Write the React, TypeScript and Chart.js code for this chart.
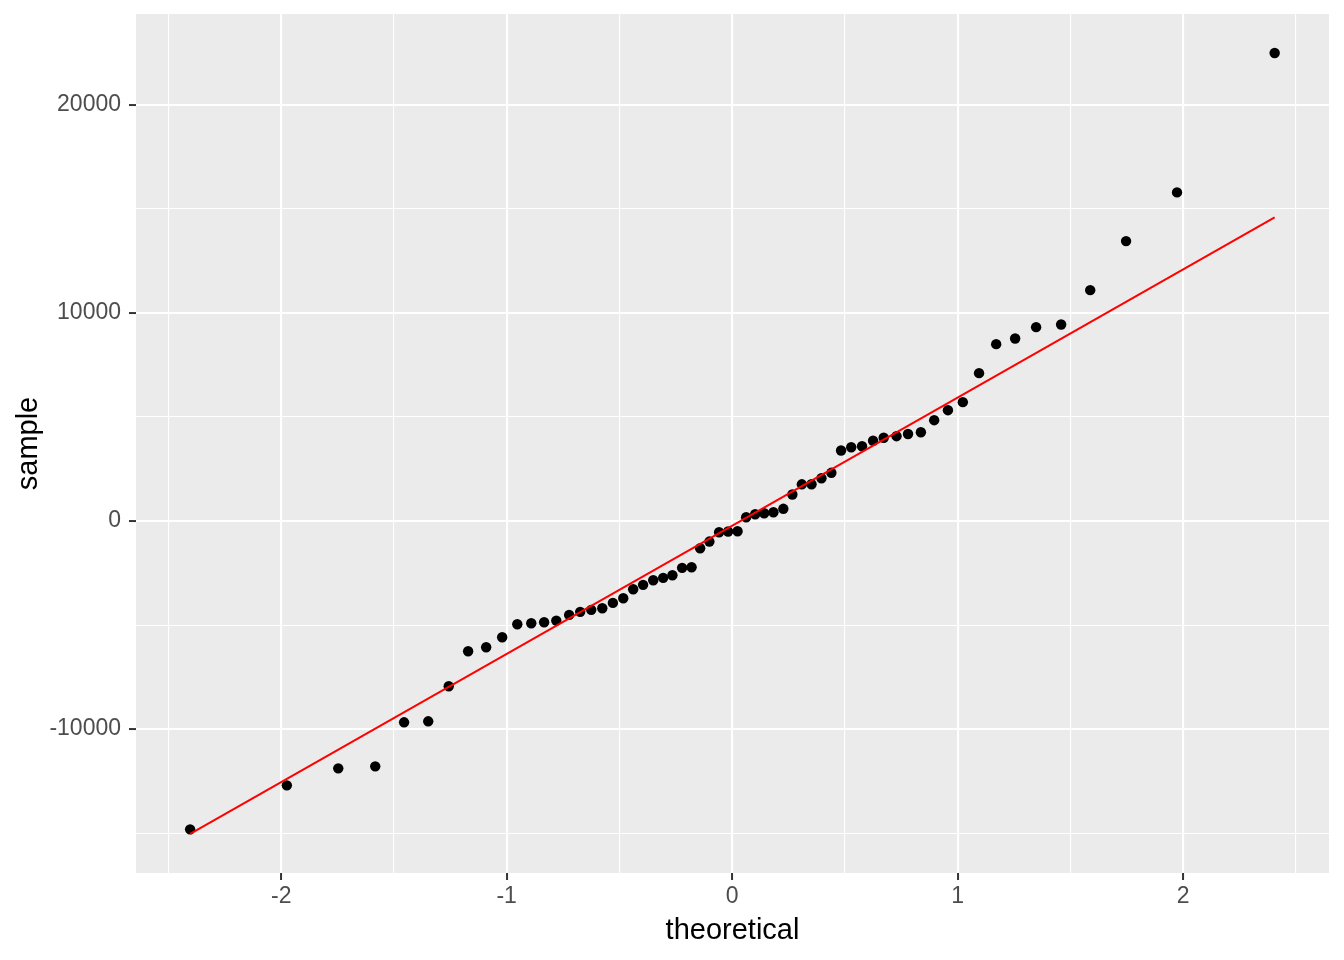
import React, { useEffect, useRef } from "react";
import { Chart, registerables } from "chart.js";

Chart.register(...registerables);

const theoretical = [
  -2.404, -1.975, -1.747, -1.583, -1.455, -1.348, -1.257, -1.171, -1.091, -1.02,
  -0.953, -0.891, -0.834, -0.78, -0.723, -0.674, -0.625, -0.576, -0.529, -0.483,
  -0.439, -0.395, -0.35, -0.306, -0.265, -0.222, -0.18, -0.142, -0.101, -0.058,
  -0.018, 0.024, 0.062, 0.102, 0.142, 0.183, 0.227, 0.267, 0.309, 0.352,
  0.396, 0.44, 0.483, 0.528, 0.576, 0.625, 0.672, 0.729, 0.78, 0.837,
  0.896, 0.957, 1.023, 1.095, 1.171, 1.255, 1.348, 1.459, 1.588, 1.747,
  1.973, 2.406,
];

const sample = [
  -14817, -12702, -11885, -11788, -9673, -9625, -7942, -6260, -6067, -5587,
  -4962, -4913, -4865, -4784, -4510, -4365, -4269, -4192, -3933, -3712,
  -3279, -3067, -2846, -2731, -2606, -2250, -2221, -1308, -986, -538,
  -505, -490, 183, 327, 375, 423, 587, 1274, 1765, 1770,
  2058, 2317, 3389, 3548, 3596, 3856, 4000, 4077, 4183, 4269,
  4846, 5327, 5712, 7106, 8500, 8774, 9317, 9447, 11096, 13452,
  15793, 22490,
];

const lineX = [-2.404, 2.406];
const lineY = [-15038, 14591];

const xGrid = [-2.5, -2, -1.5, -1, -0.5, 0, 0.5, 1, 1.5, 2, 2.5];
const xMajor = [-2, -1, 0, 1, 2];
const yGrid = [-15000, -10000, -5000, 0, 5000, 10000, 15000, 20000];
const yMajor = [-10000, 0, 10000, 20000];

const FONT = "'Liberation Sans', Arial, sans-serif";

const panelBg = {
  id: "panelBg",
  beforeDraw(chart: any) {
    const { ctx, chartArea } = chart;
    ctx.save();
    ctx.fillStyle = "#EBEBEB";
    ctx.fillRect(
      chartArea.left,
      chartArea.top,
      chartArea.right - chartArea.left,
      chartArea.bottom - chartArea.top
    );
    ctx.restore();
  },
};

export default function App() {
  const ref = useRef<HTMLCanvasElement | null>(null);

  useEffect(() => {
    if (!ref.current) return;
    const isMajorX = (v: number) => xMajor.includes(v);
    const isMajorY = (v: number) => yMajor.includes(v);
    const chart = new Chart(ref.current, {
      type: "scatter",
      data: {
        datasets: [
          {
            type: "line",
            label: "line",
            data: lineX.map((x, i) => ({ x, y: lineY[i] })),
            borderColor: "#FF0000",
            borderWidth: 2,
            pointRadius: 0,
            fill: false,
            order: 0,
          },
          {
            type: "scatter",
            label: "sample",
            data: theoretical.map((x, i) => ({ x, y: sample[i] })),
            backgroundColor: "#000000",
            borderColor: "#000000",
            borderWidth: 0,
            pointRadius: 5.2,
            order: 1,
          },
        ],
      } as any,
      options: {
        animation: false,
        responsive: false,
        maintainAspectRatio: false,
        layout: { padding: { top: 14, right: 15, bottom: 0, left: 0 } },
        plugins: {
          legend: { display: false },
          tooltip: { enabled: false },
        },
        scales: {
          x: {
            type: "linear",
            min: -2.644,
            max: 2.647,
            border: { display: false },
            afterBuildTicks: (scale: any) => {
              scale.ticks = xGrid.map((v) => ({ value: v }));
            },
            afterFit: (scale: any) => {
              scale.height = 87;
              scale.paddingLeft = 0;
              scale.paddingRight = 0;
            },
            grid: {
              color: "#FFFFFF",
              lineWidth: (ctx: any) => (isMajorX(ctx.tick?.value) ? 2.1 : 1.1),
              tickLength: 7,
              tickColor: (ctx: any) =>
                isMajorX(ctx.tick?.value) ? "#333333" : "rgba(0,0,0,0)",
              tickWidth: 2,
            },
            ticks: {
              autoSkip: false,
              maxRotation: 0,
              padding: 3,
              color: "#4D4D4D",
              font: { family: FONT, size: 23 },
              callback: (v: any) => (isMajorX(Number(v)) ? String(v) : ""),
            },
            title: {
              display: true,
              text: "theoretical",
              color: "#000000",
              font: { family: FONT, size: 29, lineHeight: 1.2 },
              padding: { top: 0, bottom: 11.6 },
            },
          },
          y: {
            type: "linear",
            min: -16914,
            max: 24366,
            border: { display: false },
            afterBuildTicks: (scale: any) => {
              scale.ticks = yGrid.map((v) => ({ value: v }));
            },
            afterFit: (scale: any) => {
              scale.width = 136;
              scale.paddingTop = 0;
              scale.paddingBottom = 0;
            },
            grid: {
              color: "#FFFFFF",
              lineWidth: (ctx: any) => (isMajorY(ctx.tick?.value) ? 2.1 : 1.1),
              tickLength: 7,
              tickColor: (ctx: any) =>
                isMajorY(ctx.tick?.value) ? "#333333" : "rgba(0,0,0,0)",
              tickWidth: 2,
            },
            ticks: {
              autoSkip: false,
              padding: 8,
              color: "#4D4D4D",
              font: { family: FONT, size: 23 },
              callback: (v: any) => (isMajorY(Number(v)) ? String(v) : ""),
            },
            title: {
              display: true,
              text: "sample",
              color: "#000000",
              font: { family: FONT, size: 29, lineHeight: 1.2 },
              padding: { top: 11.6, bottom: 0 },
            },
          },
        },
      } as any,
      plugins: [panelBg],
    });
    return () => chart.destroy();
  }, []);

  return (
    <div style={{ position: "absolute", left: 0, top: 0, width: 1344, height: 960, background: "#FFFFFF" }}>
      <canvas ref={ref} width={1344} height={960} style={{ display: "block", width: 1344, height: 960 }} />
    </div>
  );
}
